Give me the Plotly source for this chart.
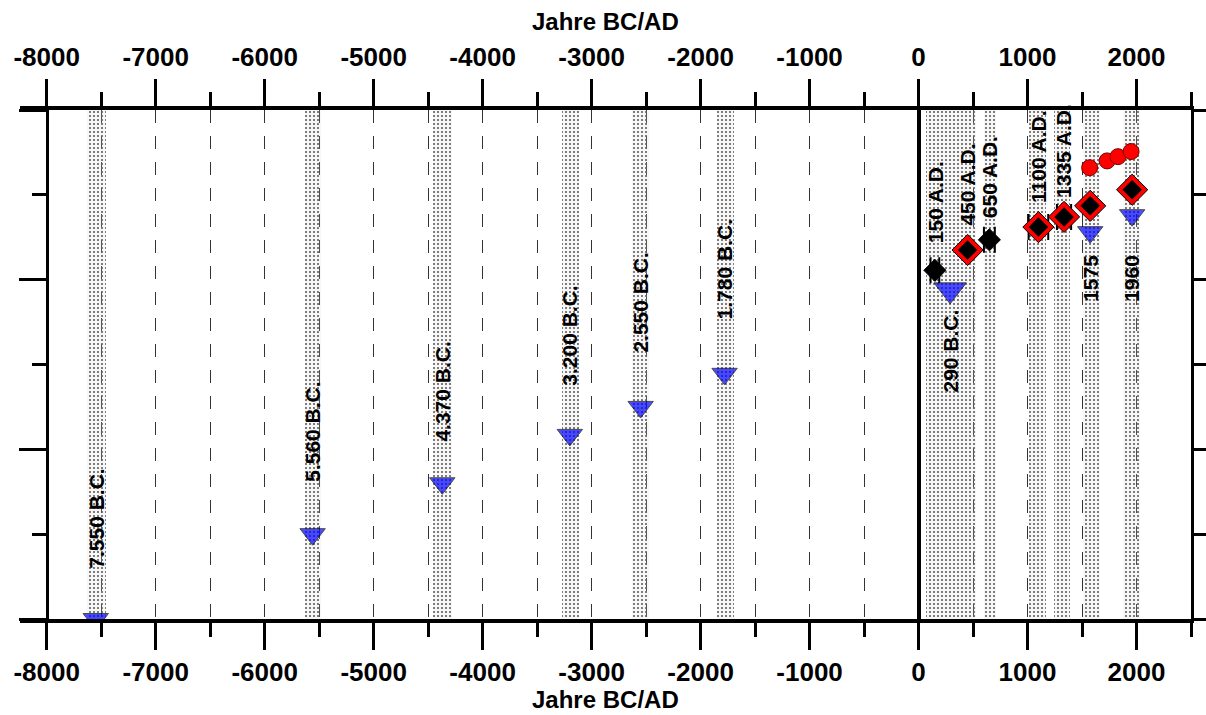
import plotly.graph_objects as go

# ---- data -------------------------------------------------------------
# dated events (years BC negative / AD positive) and their level values
tri_years = [-7550, -5560, -4370, -3200, -2550, -1780, 290, 1575, 1960]
tri_values = [0.0, 1.0, 1.6, 2.17, 2.5, 2.89, 3.88, 4.56, 4.76]
tri_labels = ["7.550 B.C.", "5.560 B.C.", "4.370 B.C.", "3.200 B.C.",
              "2.550 B.C.", "1.780 B.C.", "290 B.C.", "1575", "1960"]

dia_years = [150, 450, 650, 1100, 1335, 1575, 1960]
dia_values = [4.11, 4.35, 4.47, 4.62, 4.74, 4.87, 5.06]
dia_errors = [40, 0, 50, 90, 65, 0, 0]
dia_outlined = [False, True, False, True, True, True, True]
dia_labels = ["150 A.D.", "450 A.D.", "650 A.D.", "1100 A.D.", "1335 A.D.", "", ""]

circ_years = [1570, 1730, 1830, 1950]
circ_values = [5.32, 5.40, 5.45, 5.51]

# dating intervals shown as stippled bands
band_start = [-7630, -5630, -4455, -3275, -2630, -1850, 65, 605, 1010, 1240, 1505, 1880]
band_end = [-7460, -5480, -4285, -3120, -2470, -1690, 525, 715, 1170, 1390, 1665, 2035]

x_ticks = list(range(-8000, 2001, 1000))
x_ticktext = [str(v) for v in x_ticks]

# ---- layout constants ---------------------------------------------------
X_MIN, X_MAX = -8245, 2500
Y_MIN, Y_MAX = 0, 6
FONT = "Liberation Sans, Arial, sans-serif"
# label offsets in px from the marker centre (positive = above)
tri_label_shift = [48, 50, 40, 47, 52, 52, -18, -21, -38]
dia_label_shift = [25, 22, 20, 22, 17, 0, 0]

fig = go.Figure()

# stippled bands
fig.add_trace(go.Bar(
    x=[(a + b) / 2 for a, b in zip(band_start, band_end)],
    y=[Y_MAX - Y_MIN] * len(band_start),
    base=Y_MIN,
    width=[b - a for a, b in zip(band_start, band_end)],
    marker=dict(
        color="rgba(210,210,210,0.18)",
        line=dict(width=0),
        pattern=dict(shape=".", fgcolor="#5e5e5e", bgcolor="rgba(210,210,210,0.18)",
                     size=4, solidity=0.22, fillmode="replace"),
    ),
    hoverinfo="skip", showlegend=False,
))

# blue triangles
tri_sizes = [28 if lab == "290 B.C." else 22 for lab in tri_labels]
fig.add_trace(go.Scatter(
    x=tri_years, y=tri_values, mode="markers", xaxis="x2", yaxis="y2",
    marker=dict(symbol="triangle-down", size=tri_sizes, color="#0000FF",
                line=dict(color="black", width=1)),
    showlegend=False,
))

# diamonds without outline (with dating error bars)
plain = [i for i, o in enumerate(dia_outlined) if not o]
outl = [i for i, o in enumerate(dia_outlined) if o]
fig.add_trace(go.Scatter(
    x=[dia_years[i] for i in plain], y=[dia_values[i] for i in plain],
    mode="markers", xaxis="x2", yaxis="y2",
    error_x=dict(type="data", array=[dia_errors[i] for i in plain], symmetric=True,
                 color="black", thickness=2, width=13),
    marker=dict(symbol="diamond", size=17, color="black", line=dict(color="black", width=1)),
    showlegend=False,
))
# red-outlined diamonds
fig.add_trace(go.Scatter(
    x=[dia_years[i] for i in outl], y=[dia_values[i] for i in outl],
    mode="markers", xaxis="x2", yaxis="y2",
    error_x=dict(type="data", array=[dia_errors[i] for i in outl], symmetric=True,
                 color="black", thickness=2, width=13),
    marker=dict(symbol="diamond", size=24, color="#FF0000", line=dict(color="black", width=1)),
    showlegend=False,
))
fig.add_trace(go.Scatter(
    x=[dia_years[i] for i in outl], y=[dia_values[i] for i in outl],
    mode="markers", xaxis="x2", yaxis="y2",
    marker=dict(symbol="diamond", size=15, color="black", line=dict(width=0)),
    showlegend=False,
))

# red circles
fig.add_trace(go.Scatter(
    x=circ_years, y=circ_values, mode="markers", xaxis="x2", yaxis="y2",
    marker=dict(symbol="circle", size=16, color="#FF0000", line=dict(color="#7a0000", width=1)),
    showlegend=False,
))

# rotated event labels
def add_label(x, y, text, shift):
    if not text:
        return
    fig.add_annotation(
        x=x, y=y, xref="x", yref="y", text=text, textangle=-90, showarrow=False,
        xanchor="center", yanchor="bottom" if shift > 0 else "top", yshift=shift,
        font=dict(family=FONT, size=21, color="black", weight="bold"),
    )

for x, y, t, s in zip(tri_years, tri_values, tri_labels, tri_label_shift):
    add_label(x, y, t, s)
for x, y, t, s in zip(dia_years, dia_values, dia_labels, dia_label_shift):
    add_label(x, y, t, s)

# axis titles (top and bottom)
title_font = dict(family=FONT, size=24, color="black", weight="bold")
for ty in (1.173, -0.159):
    fig.add_annotation(x=0.5, y=ty, xref="paper", yref="paper", text="Jahre BC/AD",
                       showarrow=False, xanchor="center", yanchor="middle", font=title_font)

tick_font = dict(family=FONT, size=26, color="black", weight="bold")

x_common = dict(
    range=[X_MIN, X_MAX], tickmode="array", tickvals=x_ticks, ticktext=x_ticktext,
    ticks="outside", ticklen=27, tickwidth=3, tickcolor="black",
    showline=True, linewidth=4, linecolor="black",
    tickfont=tick_font, automargin=False,
    minor=dict(dtick=500, tick0=0, ticks="outside", ticklen=14, tickwidth=3,
               tickcolor="black"),
)
y_common = dict(
    range=[Y_MIN, Y_MAX], showline=True, linewidth=3, linecolor="black",
    ticks="outside", tickvals=[0, 2, 4, 6], ticklen=27, tickwidth=3,
    tickcolor="black", showticklabels=False, showgrid=False, zeroline=False,
    automargin=False,
    minor=dict(tickvals=[1, 3, 5], ticks="outside", ticklen=14,
               tickwidth=3, tickcolor="black"),
)

fig.update_layout(
    width=1206, height=715,
    margin=dict(l=20, r=15, t=110, b=96, autoexpand=False),
    paper_bgcolor="white", plot_bgcolor="white",
    barmode="overlay", bargap=0,
    xaxis=dict(**x_common, side="bottom",
               zeroline=True, zerolinewidth=4, zerolinecolor="black",
               showgrid=True, gridcolor="#333333", gridwidth=1.3, griddash="13px,13px",
               minor_showgrid=True, minor_gridcolor="#333333",
               minor_gridwidth=1.3, minor_griddash="13px,13px"),
    xaxis2=dict(**x_common, side="top", overlaying="x", anchor="y2",
                ticklabelstandoff=3, showgrid=False, zeroline=False),
    yaxis=dict(**y_common, anchor="free",
               position=(-8000 - X_MIN) / (X_MAX - X_MIN)),
    yaxis2=dict(**y_common, overlaying="y", side="right", anchor="x2"),
)

fig.write_html("out.html")
